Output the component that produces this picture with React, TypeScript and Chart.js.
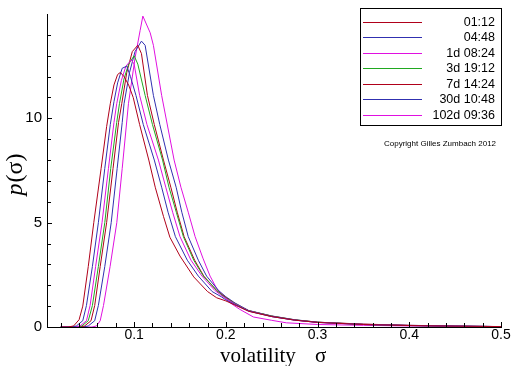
import React, { useEffect, useRef } from 'react';
import { Chart, registerables } from 'chart.js';
Chart.register(...registerables);

const LABELS = ['01:12', '04:48', '1d 08:24', '3d 19:12', '7d 14:24', '30d 10:48', '102d 09:36'];
const COLORS = ['#b0001a', '#3030b0', '#e010e0', '#20a820', '#b0001a', '#3030b0', '#e010e0'];

const X_TICKS = [0.02, 0.04, 0.06, 0.08, 0.1, 0.12, 0.14, 0.16, 0.18, 0.2, 0.22, 0.24, 0.26, 0.28, 0.3,
  0.32, 0.34, 0.36, 0.38, 0.4, 0.42, 0.44, 0.46, 0.48, 0.5];
const Y_TICKS = [0, 1, 2, 3, 4, 5, 6, 7, 8, 9, 10, 11, 12, 13, 14];
const Y_LABELED = [0, 5, 10];

const X1 = [0.020, 0.028, 0.034, 0.040, 0.044, 0.050, 0.056, 0.064, 0.070, 0.074, 0.078, 0.082, 0.085, 0.089, 0.094, 0.099, 0.106, 0.116, 0.123, 0.132, 0.139, 0.150, 0.165, 0.180, 0.190, 0.200, 0.210, 0.225, 0.250, 0.275, 0.300, 0.350, 0.400, 0.450, 0.500];
const Y1 = [0, 0, 0.05, 0.35, 1.0, 2.9, 5.0, 7.6, 9.6, 10.7, 11.6, 12.1, 12.2, 12.0, 11.6, 11.0, 9.7, 8.0, 6.7, 5.3, 4.3, 3.4, 2.4, 1.7, 1.4, 1.25, 1.05, 0.75, 0.5, 0.33, 0.22, 0.12, 0.07, 0.04, 0.02];

const X2 = [0.020, 0.032, 0.037, 0.044, 0.048, 0.0545, 0.061, 0.068, 0.074, 0.078, 0.082, 0.087, 0.092, 0.096, 0.102, 0.110, 0.122, 0.130, 0.137, 0.145, 0.158, 0.170, 0.185, 0.195, 0.200, 0.210, 0.225, 0.250, 0.275, 0.300, 0.350, 0.400, 0.450, 0.500];
const Y2 = [0, 0, 0.05, 0.3, 1.03, 2.9, 5.0, 7.6, 9.7, 10.8, 11.7, 12.4, 12.5, 12.0, 11.1, 9.7, 8.0, 6.7, 5.5, 4.33, 3.2, 2.44, 1.7, 1.45, 1.3, 1.08, 0.76, 0.5, 0.33, 0.22, 0.12, 0.07, 0.04, 0.02];

const X3 = [0.020, 0.036, 0.041, 0.048, 0.052, 0.058, 0.065, 0.072, 0.078, 0.081, 0.086, 0.091, 0.097, 0.100, 0.106, 0.114, 0.1265, 0.1345, 0.142, 0.150, 0.162, 0.174, 0.188, 0.197, 0.210, 0.225, 0.250, 0.275, 0.300, 0.350, 0.400, 0.450, 0.500];
const Y3 = [0, 0, 0.05, 0.3, 1.03, 2.9, 5.0, 7.6, 9.8, 10.7, 11.8, 12.5, 12.8, 12.6, 11.1, 9.7, 8.0, 6.7, 5.5, 4.33, 3.2, 2.44, 1.75, 1.45, 1.1, 0.77, 0.5, 0.33, 0.22, 0.12, 0.07, 0.04, 0.02];

const X4 = [0.020, 0.038, 0.043, 0.050, 0.0545, 0.061, 0.068, 0.0745, 0.081, 0.084, 0.089, 0.094, 0.100, 0.104, 0.112, 0.120, 0.131, 0.138, 0.146, 0.1537, 0.165, 0.1755, 0.190, 0.198, 0.210, 0.225, 0.250, 0.275, 0.300, 0.350, 0.400, 0.450, 0.500];
const Y4 = [0, 0, 0.05, 0.3, 1.03, 2.9, 5.0, 7.6, 9.8, 10.7, 11.9, 12.6, 13.0, 12.6, 11.1, 9.7, 8.0, 6.7, 5.5, 4.33, 3.2, 2.44, 1.75, 1.45, 1.12, 0.78, 0.52, 0.34, 0.23, 0.12, 0.07, 0.04, 0.02];

const X5 = [0.020, 0.040, 0.046, 0.053, 0.057, 0.063, 0.070, 0.077, 0.083, 0.0865, 0.092, 0.098, 0.104, 0.108, 0.1145, 0.122, 0.132, 0.140, 0.147, 0.1545, 0.166, 0.176, 0.190, 0.199, 0.210, 0.225, 0.250, 0.275, 0.300, 0.350, 0.400, 0.450, 0.500];
const Y5 = [0, 0, 0.05, 0.3, 1.03, 2.9, 5.0, 7.6, 9.8, 10.7, 12.2, 13.2, 13.5, 13.1, 11.1, 9.7, 8.0, 6.7, 5.5, 4.33, 3.2, 2.44, 1.75, 1.45, 1.12, 0.78, 0.52, 0.34, 0.23, 0.14, 0.08, 0.04, 0.02];

const X6 = [0.020, 0.044, 0.050, 0.057, 0.061, 0.068, 0.075, 0.0815, 0.087, 0.089, 0.095, 0.101, 0.108, 0.112, 0.121, 0.128, 0.1374, 0.1458, 0.152, 0.159, 0.170, 0.179, 0.192, 0.200, 0.210, 0.225, 0.250, 0.275, 0.300, 0.350, 0.400, 0.450, 0.500];
const Y6 = [0, 0, 0.05, 0.3, 1.03, 2.9, 5.0, 7.6, 9.8, 10.7, 12.2, 13.2, 13.7, 13.5, 11.1, 9.7, 8.0, 6.7, 5.5, 4.33, 3.2, 2.44, 1.75, 1.45, 1.15, 0.79, 0.53, 0.35, 0.23, 0.13, 0.08, 0.05, 0.02];

const X7 = [0.020, 0.054, 0.059, 0.063, 0.0666, 0.0738, 0.0811, 0.087, 0.0938, 0.101, 0.1065, 0.1095, 0.1175, 0.121, 0.130, 0.1436, 0.151, 0.159, 0.1665, 0.175, 0.1828, 0.190, 0.197, 0.205, 0.215, 0.230, 0.250, 0.266, 0.300, 0.350, 0.400, 0.450, 0.500];
const Y7 = [0, 0, 0.05, 0.3, 1.03, 2.9, 5.0, 7.6, 10.7, 12.9, 14.2, 14.9, 14.1, 13.5, 11.1, 8.0, 6.7, 5.5, 4.33, 3.3, 2.44, 1.85, 1.5, 1.15, 0.85, 0.48, 0.32, 0.2, 0.12, 0.08, 0.05, 0.03, 0.015];

const SERIES_X = [X1, X2, X3, X4, X5, X6, X7];
const SERIES_Y = [Y1, Y2, Y3, Y4, Y5, Y6, Y7];

const SANS = '"Liberation Sans", Arial, sans-serif';
const SERIF = '"Liberation Serif", "Times New Roman", serif';

const decor = {
  id: 'decor',
  afterDatasetsDraw(chart: any) {
    const { ctx, chartArea, scales } = chart;
    const xs = scales.x;
    const ys = scales.y;
    ctx.save();
    ctx.strokeStyle = '#000';
    ctx.lineWidth = 1;
    ctx.beginPath();
    for (const t of xs.ticks) {
      const px = Math.round(xs.getPixelForValue(t.value)) + 0.5;
      const major = Math.abs(t.value * 10 - Math.round(t.value * 10)) < 1e-6;
      ctx.moveTo(px, chartArea.bottom);
      ctx.lineTo(px, chartArea.bottom - (major ? 5 : 4));
    }
    for (const t of ys.ticks) {
      const py = Math.round(ys.getPixelForValue(t.value)) + 0.5;
      const major = Y_LABELED.includes(t.value);
      ctx.moveTo(chartArea.left, py);
      ctx.lineTo(chartArea.left + (major ? 5 : 4), py);
    }
    ctx.stroke();

    // legend box
    const bx = 360.5, by = 8.5, bw = 141, bh = 117;
    ctx.fillStyle = '#fff';
    ctx.fillRect(bx, by, bw, bh);
    ctx.strokeStyle = '#000';
    ctx.strokeRect(bx, by, bw, bh);
    ctx.font = '12.5px ' + SANS;
    ctx.textAlign = 'right';
    ctx.textBaseline = 'middle';
    chart.data.datasets.forEach((ds: any, i: number) => {
      const y = Math.round(22 + i * 15.45) + 0.5;
      ctx.strokeStyle = ds.borderColor;
      ctx.beginPath();
      ctx.moveTo(363, y);
      ctx.lineTo(422, y);
      ctx.stroke();
      ctx.fillStyle = '#000';
      ctx.fillText(ds.label, 495, y);
    });

    // copyright
    ctx.font = '8px ' + SANS;
    ctx.textAlign = 'left';
    ctx.fillStyle = '#000';
    ctx.fillText('Copyright Gilles Zumbach 2012', 384, 144);

    // x title
    ctx.font = '21px ' + SERIF;
    ctx.textBaseline = 'alphabetic';
    ctx.textAlign = 'left';
    ctx.fillText('volatility', 220, 362);
    ctx.fillText('σ', 315, 362);

    // y title
    ctx.translate(16, 175);
    ctx.rotate(-Math.PI / 2);
    ctx.font = 'italic 24px ' + SERIF;
    const wp = ctx.measureText('p').width;
    ctx.font = '24px ' + SERIF;
    const wr = ctx.measureText('(σ)').width;
    const start = -(wp + wr) / 2;
    ctx.textBaseline = 'middle';
    ctx.font = 'italic 24px ' + SERIF;
    ctx.fillText('p', start, 0);
    ctx.font = '24px ' + SERIF;
    ctx.fillText('(σ)', start + wp + 1, 0);
    ctx.restore();
  },
};

export default function App() {
  const ref = useRef<HTMLCanvasElement>(null);
  useEffect(() => {
    const canvas = ref.current;
    if (!canvas) return;
    const chart = new Chart(canvas, {
      type: 'line',
      data: {
        datasets: SERIES_X.map((xs, i) => ({
          label: LABELS[i],
          data: xs.map((x, j) => ({ x, y: SERIES_Y[i][j] })),
          borderColor: COLORS[i],
          backgroundColor: COLORS[i],
          borderWidth: 1,
          pointRadius: 0,
          fill: false,
          tension: 0,
        })),
      },
      options: {
        responsive: false,
        animation: false,
        layout: { padding: { left: 0, right: 11, top: 8, bottom: 0 } },
        plugins: { legend: { display: false }, tooltip: { enabled: false } },
        scales: {
          x: {
            type: 'linear',
            min: 0.005,
            max: 0.5,
            afterBuildTicks: (s: any) => { s.ticks = X_TICKS.map((v) => ({ value: v })); },
            afterFit: (s: any) => { s.height = 39; },
            ticks: {
              autoSkip: false,
              maxRotation: 0,
              padding: 0,
              color: '#000',
              font: { family: SANS, size: 14 },
              callback: (v: any) => (Math.abs(v * 10 - Math.round(v * 10)) < 1e-6 ? Number(v).toFixed(1) : ''),
            },
            grid: { display: false, drawTicks: false },
            border: { display: true, color: '#000', width: 1 },
          },
          y: {
            type: 'linear',
            min: 0,
            max: 15,
            afterBuildTicks: (s: any) => { s.ticks = Y_TICKS.map((v) => ({ value: v })); },
            afterFit: (s: any) => { s.width = 47; },
            ticks: {
              autoSkip: false,
              padding: 5,
              color: '#000',
              font: { family: SANS, size: 15 },
              callback: (v: any) => (Y_LABELED.includes(Number(v)) ? String(v) : ''),
            },
            grid: { display: false, drawTicks: false },
            border: { display: true, color: '#000', width: 1 },
          },
        },
      },
      plugins: [decor],
    } as any);
    return () => chart.destroy();
  }, []);
  return (
    <div style={{ position: 'fixed', left: 0, top: 0, width: 512, height: 366, background: '#fff' }}>
      <canvas ref={ref} width={512} height={366} style={{ display: 'block' }} />
    </div>
  );
}
